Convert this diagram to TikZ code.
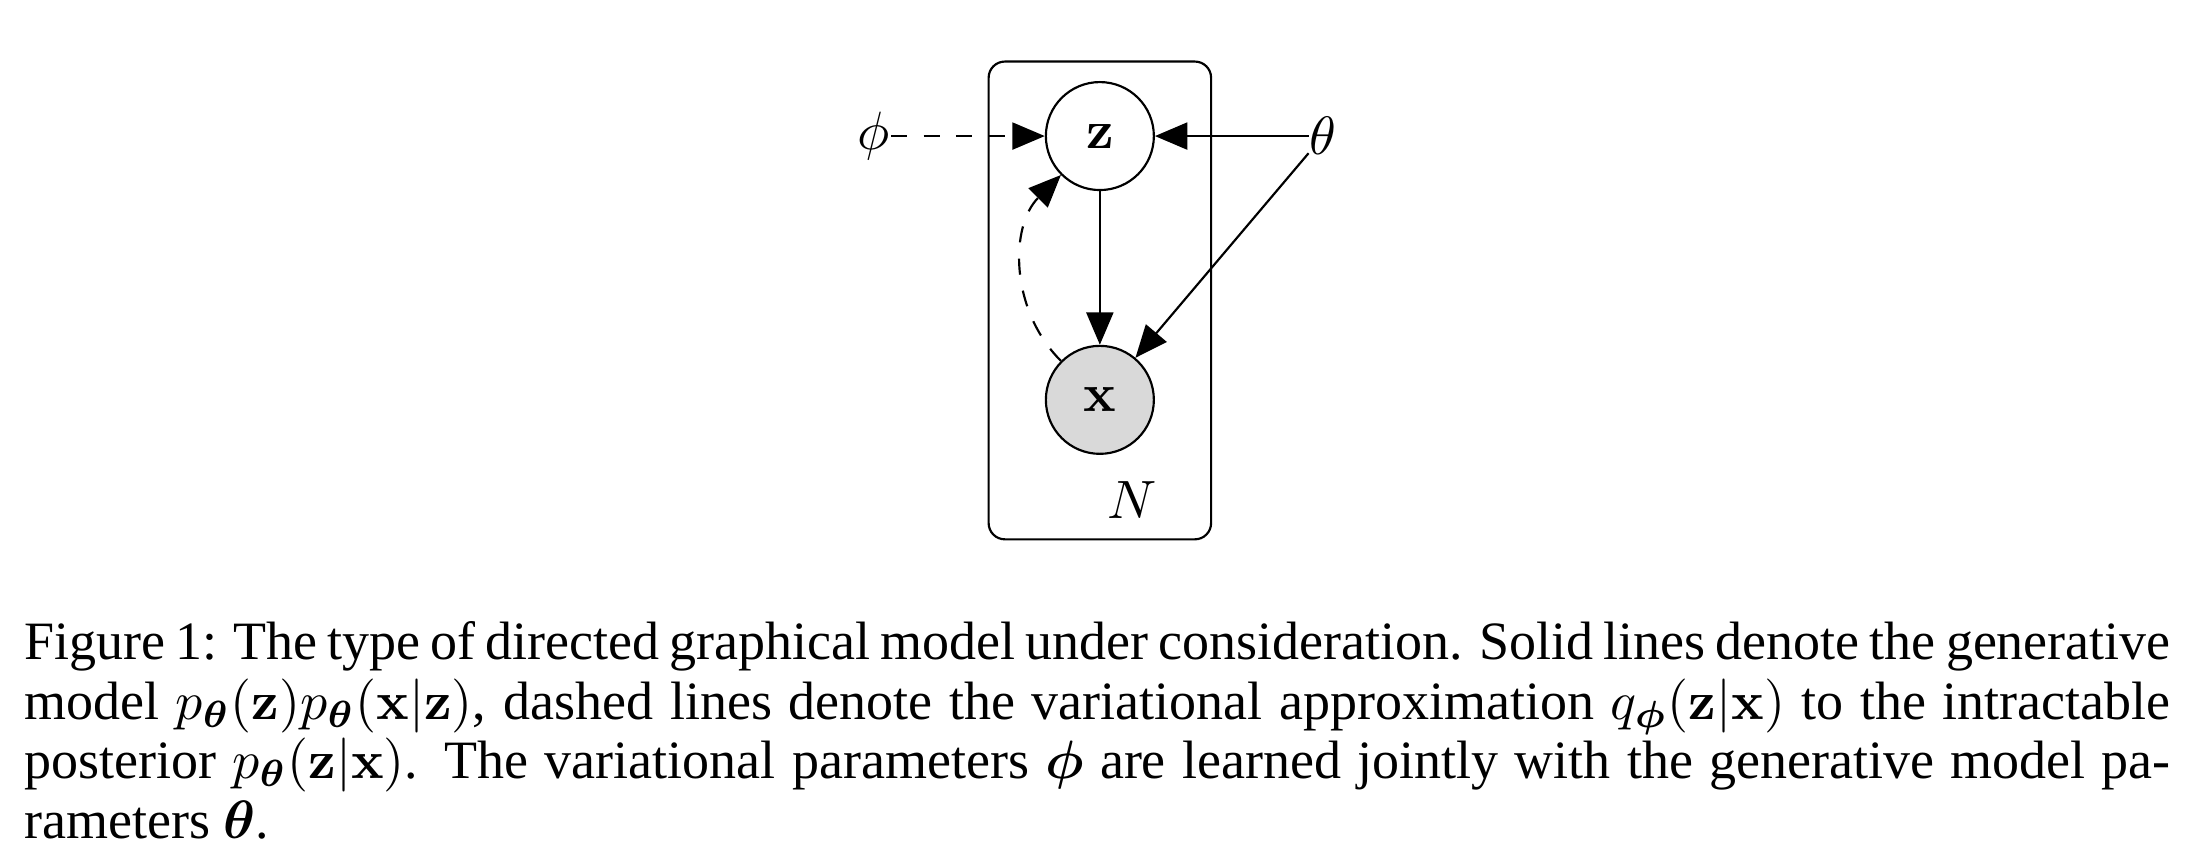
\documentclass[tikz,border=0pt]{standalone}
\usepackage{amsmath}
\usepackage[no-math]{fontspec}
\setmainfont{Liberation Serif}
\usetikzlibrary{positioning,fit,arrows.meta}

\begin{document}
\begin{tikzpicture}[
            latent/.style={
                    draw,
                    circle,
                    fill=white,
                    inner sep=1pt,
                    minimum size=20pt
                },
            obs/.style={
                    latent,
                    fill=gray!30
                },
            param/.style={
                    inner sep=0pt
                },
            plate/.style={
                    draw,
                    rounded corners=3pt,
                    inner xsep=10.4pt,
                    inner ysep=3.6pt
                },
            edge/.style={-{Triangle[length=6pt,width=5pt]}},
            node distance=1cm
        ]
        \useasboundingbox (-203.7pt,25.2pt) rectangle (205.6pt,-135.5pt);
        \node[latent] (z) {$\mathbf{z}$};
        \node[obs,below=of z] (x) {$\mathbf{x}$};
        \node[param,left=of z] (phi) {$\phi$};
        \node[param,right=of z] (theta) {$\theta$};
        \node[param,below=4.8pt of x.south,xshift=5.9pt] (N) {$N$};
        \node[plate,fit=(z)(x)(N.south)] (plate) {};

        \draw[edge] (z) -- (x);
        \draw[edge] (theta) -- (z);
        \draw[edge] (theta) -- (x);
        \draw[edge,dashed] (phi) -- (z);
        \draw[edge,dashed] (x) to[bend left=45] (z);

        \node[anchor=base west,text width=397.5pt,align=justify,inner sep=0pt,
            font=\fontsize{10}{11}\selectfont] (caption) at (-199.4pt,-97pt)
        {Figure 1: The type of directed graphical model under consideration. Solid lines denote the generative\linebreak
        model $p_{\boldsymbol{\theta}}(\mathbf{z})p_{\boldsymbol{\theta}}(\mathbf{x}|\mathbf{z})$, dashed lines denote the variational approximation $q_{\boldsymbol{\phi}}(\mathbf{z}|\mathbf{x})$ to the intractable\linebreak
        posterior $p_{\boldsymbol{\theta}}(\mathbf{z}|\mathbf{x})$. The variational parameters $\boldsymbol{\phi}$ are learned jointly with the generative model pa-\linebreak
        rameters $\boldsymbol{\theta}$.};
    \end{tikzpicture}
\end{document}
